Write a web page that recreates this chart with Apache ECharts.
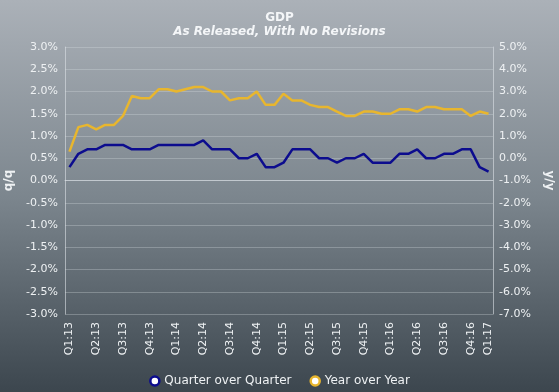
<!DOCTYPE html>
<html><head><meta charset="utf-8">
<script src="https://cdn.jsdelivr.net/npm/echarts@6/dist/echarts.min.js"></script>
<style>html,body{margin:0;padding:0;}#c{width:559px;height:392px;}</style>
</head><body><div id="c"></div>
<script>
var categories = ['Q1:13','','','Q2:13','','','Q3:13','','','Q4:13','','','Q1:14','','','Q2:14','','','Q3:14','','','Q4:14','','',
  'Q1:15','','','Q2:15','','','Q3:15','','','Q4:15','','','Q1:16','','','Q2:16','','','Q3:16','','','Q4:16','','Q1:17'];
var qoq = [0.3,0.6,0.7,0.7,0.8,0.8,0.8,0.7,0.7,0.7,0.8,0.8,0.8,0.8,0.8,0.9,0.7,0.7,0.7,0.5,0.5,0.6,0.3,0.3,
  0.4,0.7,0.7,0.7,0.5,0.5,0.4,0.5,0.5,0.6,0.4,0.4,0.4,0.6,0.6,0.7,0.5,0.5,0.6,0.6,0.7,0.7,0.3,0.2];
var yoy = [0.3,1.4,1.5,1.3,1.5,1.5,1.9,2.8,2.7,2.7,3.1,3.1,3.0,3.1,3.2,3.2,3.0,3.0,2.6,2.7,2.7,3.0,2.4,2.4,
  2.9,2.6,2.6,2.4,2.3,2.3,2.1,1.9,1.9,2.1,2.1,2.0,2.0,2.2,2.2,2.1,2.3,2.3,2.2,2.2,2.2,1.9,2.1,2.0];
var leftTicks = {min:-3, max:3, step:0.5};
var rightTicks = {min:-7, max:5, step:1};

var chart = echarts.init(document.getElementById('c'));
var txt = '#eef1f3';
var font = 'DejaVu Sans';
chart.setOption({
  backgroundColor: new echarts.graphic.LinearGradient(0,0,0,1,[{offset:0,color:'#abb1b8'},{offset:0.5,color:'#7c868e'},{offset:1,color:'#3c464e'}]),
  title: {text:'GDP', subtext:'As Released, With No Revisions', left:'center', top:7, itemGap:2,
    textStyle:{color:'#f4f6f8', fontFamily:font, fontSize:12, fontWeight:'bold'},
    subtextStyle:{color:'#f4f6f8', fontFamily:font, fontSize:12, fontWeight:'bold', fontStyle:'italic'}},
  grid: {left:65, right:66, top:47, bottom:78, outerBoundsMode:'none', containLabel:false},
  legend: {bottom:0, left:'center', itemGap:18, itemWidth:9, itemHeight:9, icon:'circle',
    textStyle:{color:txt, fontFamily:font, fontSize:12},
    data:[{name:'Quarter over Quarter', itemStyle:{color:'#ffffff', borderColor:'#0c0c8e', borderWidth:2.5}},
          {name:'Year over Year', itemStyle:{color:'#ffffff', borderColor:'#e8b62e', borderWidth:2.5}}]},
  xAxis: {type:'category', data:categories, boundaryGap:true,
    axisLine:{lineStyle:{color:'rgba(220,225,230,0.6)'}}, axisTick:{show:false},
    axisLabel:{interval:function(i){return i%3===0||i===47;}, rotate:90, color:txt, fontFamily:font, fontSize:11, margin:8}},
  yAxis: [
    {type:'value', min:leftTicks.min, max:leftTicks.max, interval:leftTicks.step, name:'q/q', nameLocation:'middle', nameRotate:90, nameGap:50,
     nameTextStyle:{color:txt, fontFamily:font, fontSize:12, fontWeight:'bold'},
     axisLine:{show:true, lineStyle:{color:'rgba(220,225,230,0.6)'}}, axisTick:{show:false},
     splitLine:{lineStyle:{color:'rgba(220,225,230,0.3)'}},
     axisLabel:{color:txt, fontFamily:font, fontSize:11, margin:7, formatter:function(v){return v.toFixed(1)+'%';}}},
    {type:'value', min:rightTicks.min, max:rightTicks.max, interval:rightTicks.step, name:'y/y', nameLocation:'middle', nameRotate:-90, nameGap:50,
     nameTextStyle:{color:txt, fontFamily:font, fontSize:12, fontWeight:'bold'},
     axisLine:{show:true, lineStyle:{color:'rgba(220,225,230,0.6)'}}, axisTick:{show:false}, splitLine:{show:false},
     axisLabel:{color:txt, fontFamily:font, fontSize:11, margin:6, formatter:function(v){return v.toFixed(1)+'%';}}}
  ],
  series: [
    {name:'Quarter over Quarter', type:'line', yAxisIndex:0, data:qoq, symbol:'none', lineStyle:{color:'#0c0c8e', width:2.5}, itemStyle:{color:'#0c0c8e'}},
    {name:'Year over Year', type:'line', yAxisIndex:1, data:yoy, symbol:'none', lineStyle:{color:'#e8b62e', width:2.5}, itemStyle:{color:'#e8b62e'}}
  ]
});
</script></body></html>
